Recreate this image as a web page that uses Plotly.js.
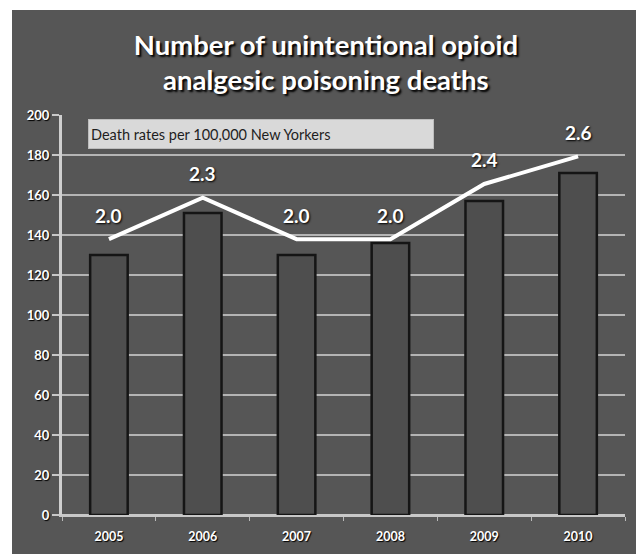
<!DOCTYPE html>
<html><head><meta charset="utf-8">
<script src="https://cdn.plot.ly/plotly-3.0.1.min.js"></script>
<style>
html,body{margin:0;padding:0;background:#ffffff;}
#chart{position:absolute;left:12px;top:10px;width:624px;height:544px;}
</style>
</head><body><div id="chart"></div>
<script>
const years = ['2005', '2006', '2007', '2008', '2009', '2010'];
const deaths = [130, 151, 130, 136, 157, 171];
const rates = [2.0, 2.3, 2.0, 2.0, 2.4, 2.6];
const rateLabels = rates.map(r => r.toFixed(1));
const yTickVals = [0, 20, 40, 60, 80, 100, 120, 140, 160, 180, 200];
const titleText = 'Number of unintentional opioid<br>analgesic poisoning deaths';
const legendText = 'Death rates per 100,000 New Yorkers';

const bg = '#565656';
const tickFont = {family: 'Lato, "Open Sans", sans-serif', size: 13, color: '#ffffff', weight: 'bold', shadow: '1px 1px 1px #000'};
const xTickFont = {family: 'Lato, "Open Sans", sans-serif', size: 12.5, color: '#ffffff', weight: 'bold', shadow: '1px 1px 1px #000'};

const traces = [
  {
    type: 'bar', x: years, y: deaths, width: 0.4,
    marker: {color: '#4e4e4e', line: {color: '#151515', width: 2.5}},
    hoverinfo: 'x+y', showlegend: false
  },
  {
    type: 'scatter', mode: 'lines', x: years, y: rates, yaxis: 'y2',
    line: {color: '#ffffff', width: 4}, showlegend: false
  }
];

const annotations = rates.map((r, i) => ({
  x: i, y: r, xref: 'x', yref: 'y2', text: rateLabels[i],
  showarrow: false, yshift: 24,
  font: {family: 'Lato, "Open Sans", sans-serif', size: 19, color: '#ffffff', weight: 'bold', shadow: '1px 1px 2px #000'}
}));
annotations.push({
  xref: 'paper', yref: 'paper', x: 0.046, y: 0.9525, xanchor: 'left', yanchor: 'middle',
  text: legendText, showarrow: false, align: 'left', width: 340, height: 24,
  bgcolor: '#d9d9d9', bordercolor: '#bdbdbd', borderwidth: 1, borderpad: 2,
  font: {family: 'Lato, "Open Sans", sans-serif', size: 14.5, color: '#1e1e1e'}
});

const layout = {
  width: 624, height: 544,
  paper_bgcolor: bg, plot_bgcolor: bg,
  margin: {l: 50, r: 11, t: 105, b: 39},
  title: {
    text: titleText, x: 0.503, xanchor: 'center', yref: 'container', y: 0.918, yanchor: 'top',
    font: {family: 'Lato, "Open Sans", sans-serif', size: 27.5, color: '#ffffff', weight: 'bold', shadow: '2px 2px 2px #000'}
  },
  bargap: 0.6,
  xaxis: {
    type: 'category', showgrid: false, tickfont: xTickFont,
    range: [-0.5, 5.5], ticklabelstandoff: 9,
    ticks: 'outside', tickson: 'boundaries', ticklen: 4, tickcolor: '#bbbbbb',
    showline: true, linecolor: '#c8c8c8', linewidth: 2
  },
  yaxis: {
    range: [0, 200], tickvals: yTickVals, tickfont: tickFont,
    showgrid: true, gridcolor: '#b4b4b4', gridwidth: 2,
    ticks: 'outside', ticklen: 7, tickcolor: '#c8c8c8', tickwidth: 2,
    showline: true, linecolor: '#cfcfcf', linewidth: 3,
    zeroline: true, zerolinecolor: '#c8c8c8', zerolinewidth: 2
  },
  yaxis2: {
    overlaying: 'y', side: 'right', range: [0, 2.9], visible: false, showgrid: false
  },
  annotations: annotations,
  showlegend: false
};

Plotly.newPlot('chart', traces, layout, {displayModeBar: false, staticPlot: true});
</script>
</body></html>
